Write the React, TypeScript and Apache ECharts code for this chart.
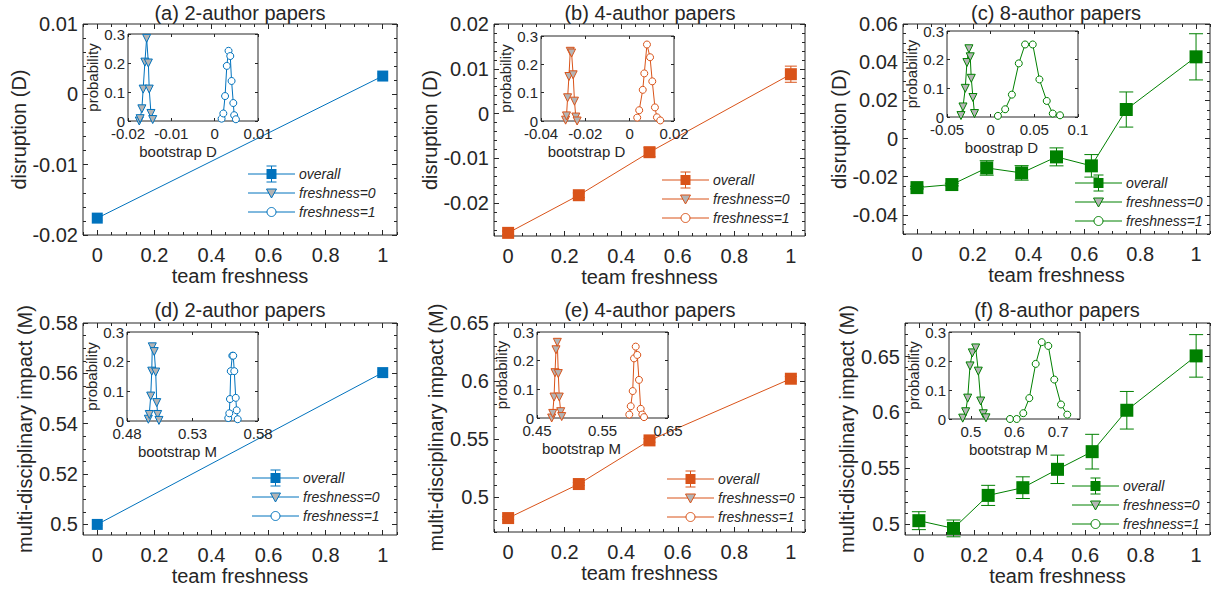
import React, { useEffect, useRef } from "react";
import * as echarts from "echarts";

const FONT = "'Liberation Sans', Arial, Helvetica, sans-serif";
const INK = "#262626";
const BLUE = "#0072BD";
const ORANGE = "#D95319";
const GREEN = "#008000";
const GRAY_FILL = "#b4b4b4";

// ---------- main panels: team freshness values ----------
const freshness2 = [0, 1];
const freshness4 = [0, 0.25, 0.5, 1];
const freshness8 = [0, 0.125, 0.25, 0.375, 0.5, 0.625, 0.75, 1];

// disruption D (mean and error half-width)
const disruption2 = [-0.0176, 0.0026];
const disruption2Err = [0.0003, 0.0003];
const disruption4 = [-0.0266, -0.0182, -0.0086, 0.0088];
const disruption4Err = [0.0004, 0.0005, 0.001, 0.0018];
const disruption8 = [-0.0257, -0.0241, -0.0154, -0.018, -0.0096, -0.0143, 0.0152, 0.0428];
const disruption8Err = [0.0007, 0.0007, 0.0038, 0.0038, 0.0047, 0.0059, 0.0092, 0.0121];

// multi-disciplinary impact M
const impact2 = [0.5, 0.5603];
const impact2Err = [0.0004, 0.0004];
const impact4 = [0.482, 0.5113, 0.5489, 0.602];
const impact4Err = [0.0012, 0.0012, 0.0015, 0.002];
const impact8 = [0.5033, 0.4964, 0.5259, 0.5328, 0.5492, 0.565, 0.602, 0.6506];
const impact8Err = [0.008, 0.0075, 0.009, 0.0097, 0.0127, 0.0155, 0.0168, 0.019];

// ---------- insets: bootstrap distributions ----------
const bootD2f0x = [-0.0174, -0.0172, -0.0168, -0.0165, -0.0161, -0.0157, -0.0153, -0.0151, -0.0147, -0.0143];
const bootD2f0y = [0.0, 0.008, 0.042, 0.11, 0.203, 0.285, 0.2, 0.11, 0.026, 0.005];
const bootD2f1x = [0.0016, 0.002, 0.0024, 0.0028, 0.0032, 0.0036, 0.0039, 0.0043, 0.0045, 0.0049];
const bootD2f1y = [0.008, 0.026, 0.086, 0.19, 0.242, 0.224, 0.138, 0.062, 0.02, 0.006];

const bootD4f0x = [-0.0289, -0.0285, -0.028, -0.0274, -0.0268, -0.0262, -0.0255, -0.0249, -0.0243, -0.0237];
const bootD4f0y = [0.003, 0.018, 0.082, 0.157, 0.246, 0.24, 0.163, 0.07, 0.014, 0.0];
const bootD4f1x = [0.0034, 0.0043, 0.0059, 0.0066, 0.0078, 0.0092, 0.0102, 0.0114, 0.0123, 0.0138];
const bootD4f1y = [0.012, 0.038, 0.11, 0.168, 0.27, 0.225, 0.14, 0.048, 0.013, 0.002];

const bootD8f0x = [-0.034, -0.0317, -0.0291, -0.0272, -0.0249, -0.0234, -0.0222, -0.0203, -0.0185];
const bootD8f0y = [0.005, 0.035, 0.1, 0.19, 0.238, 0.21, 0.135, 0.068, 0.012];
const bootD8f1x = [0.0083, 0.0166, 0.0243, 0.0322, 0.0394, 0.0482, 0.0558, 0.0642, 0.0711, 0.0794];
const bootD8f1y = [0.004, 0.027, 0.078, 0.187, 0.253, 0.253, 0.131, 0.056, 0.012, 0.006];

const bootM2f0x = [0.4963, 0.497, 0.4981, 0.4989, 0.4993, 0.5008, 0.5019, 0.5027, 0.5034, 0.5044];
const bootM2f0y = [0.006, 0.022, 0.084, 0.168, 0.25, 0.234, 0.165, 0.062, 0.022, 0.002];
const bootM2f1x = [0.5573, 0.5581, 0.5586, 0.5592, 0.5604, 0.5611, 0.5619, 0.563, 0.5637, 0.5645];
const bootM2f1y = [0.01, 0.026, 0.074, 0.168, 0.22, 0.22, 0.168, 0.078, 0.036, 0.006];

const bootM4f0x = [0.4724, 0.474, 0.476, 0.4775, 0.479, 0.481, 0.4825, 0.484, 0.4862, 0.4877];
const bootM4f0y = [0.0, 0.016, 0.073, 0.158, 0.238, 0.264, 0.155, 0.073, 0.022, 0.005];
const bootM4f1x = [0.5909, 0.5931, 0.5961, 0.5981, 0.6007, 0.6031, 0.6057, 0.6083, 0.6108, 0.6134];
const bootM4f1y = [0.012, 0.041, 0.094, 0.208, 0.249, 0.22, 0.133, 0.032, 0.012, 0.003];

const bootM8f0x = [0.4814, 0.4882, 0.4928, 0.4981, 0.5034, 0.5111, 0.5171, 0.5226, 0.5285, 0.5347];
const bootM8f0y = [0.003, 0.025, 0.072, 0.183, 0.228, 0.245, 0.165, 0.062, 0.018, 0.004];
const bootM8f1x = [0.5897, 0.605, 0.6201, 0.6339, 0.6485, 0.6623, 0.6774, 0.6911, 0.7065, 0.7209];
const bootM8f1y = [0.0, 0.0, 0.02, 0.072, 0.19, 0.265, 0.252, 0.136, 0.05, 0.015];

// ---------- tick values ----------
const freshnessTicks = [0, 0.2, 0.4, 0.6, 0.8, 1];
const probabilityTicks = [0, 0.1, 0.2, 0.3];
const dTicks2 = [-0.02, -0.01, 0, 0.01];
const dTicks4 = [-0.02, -0.01, 0, 0.01, 0.02];
const dTicks8 = [-0.04, -0.02, 0, 0.02, 0.04, 0.06];
const mTicks2 = [0.5, 0.52, 0.54, 0.56, 0.58];
const mTicks4 = [0.5, 0.55, 0.6, 0.65];
const mTicks8 = [0.5, 0.55, 0.6, 0.65];
const bootTicksD2 = [-0.02, -0.01, 0, 0.01];
const bootTicksD4 = [-0.04, -0.02, 0, 0.02];
const bootTicksD8 = [-0.05, 0, 0.05, 0.1];
const bootTicksM2 = [0.48, 0.53, 0.58];
const bootTicksM4 = [0.45, 0.55, 0.65];
const bootTicksM8 = [0.5, 0.6, 0.7];
// minor tick steps
const freshnessMinorStep = 0.05;
const yMinorSteps = [0.002, 0.002, 0.005, 0.005, 0.01, 0.01];

const legendNames = ["overall", "freshness=0", "freshness=1"];

// ---------- layout (pixels) ----------
const LAYOUT = [
  { main: [83, 24, 314, 211], inset: [128, 34, 130, 87], title: [240, 13], legend: [248, 174], yGap: 52, mark: 11, cap: 5, insetShift: 15 },
  { main: [494, 24, 311, 212], inset: [541, 36, 133, 85], title: [650, 13], legend: [662, 180], yGap: 47, mark: 12, cap: 6, insetShift: 21 },
  { main: [903, 24, 307, 210], inset: [947, 31, 131, 86], title: [1056, 13], legend: [1075, 183], yGap: 49, mark: 13, cap: 7, insetShift: 11 },
  { main: [83, 323, 314, 212], inset: [127, 332, 131, 89], title: [240, 310], legend: [252, 478], yGap: 42, mark: 11, cap: 5, insetShift: 15 },
  { main: [494, 323, 311, 209], inset: [537, 332, 131, 86], title: [650, 310], legend: [667, 479], yGap: 46, mark: 12, cap: 6, insetShift: 21 },
  { main: [905, 323, 305, 212], inset: [949, 332, 131, 87], title: [1057, 310], legend: [1072, 486], yGap: 47, mark: 13, cap: 7, insetShift: 6 },
];

const zip = (a: number[], b: number[]) => a.map((v, i) => [v, b[i]]);

const PANELS = [
  {
    title: "(a) 2-author papers", color: BLUE, x: freshness2, y: disruption2, err: disruption2Err,
    yName: "disruption (D)", yMin: -0.02, yMax: 0.01, yTicks: dTicks2,
    inset: { name: "bootstrap D", min: -0.02, max: 0.01, ticks: bootTicksD2, f0: zip(bootD2f0x, bootD2f0y), f1: zip(bootD2f1x, bootD2f1y) },
  },
  {
    title: "(b) 4-author papers", color: ORANGE, x: freshness4, y: disruption4, err: disruption4Err,
    yName: "disruption (D)", yMin: -0.0273, yMax: 0.02, yTicks: dTicks4,
    inset: { name: "bootstrap D", min: -0.04, max: 0.02, ticks: bootTicksD4, f0: zip(bootD4f0x, bootD4f0y), f1: zip(bootD4f1x, bootD4f1y) },
  },
  {
    title: "(c) 8-author papers", color: GREEN, x: freshness8, y: disruption8, err: disruption8Err,
    yName: "disruption (D)", yMin: -0.05, yMax: 0.06, yTicks: dTicks8,
    inset: { name: "boostrap D", min: -0.05, max: 0.1, ticks: bootTicksD8, f0: zip(bootD8f0x, bootD8f0y), f1: zip(bootD8f1x, bootD8f1y) },
  },
  {
    title: "(d) 2-author papers", color: BLUE, x: freshness2, y: impact2, err: impact2Err,
    yName: "multi-disciplinary impact (M)", yMin: 0.4958, yMax: 0.58, yTicks: mTicks2,
    inset: { name: "bootstrap M", min: 0.48, max: 0.58, ticks: bootTicksM2, f0: zip(bootM2f0x, bootM2f0y), f1: zip(bootM2f1x, bootM2f1y) },
  },
  {
    title: "(e) 4-author papers", color: ORANGE, x: freshness4, y: impact4, err: impact4Err,
    yName: "multi-disciplinary impact (M)", yMin: 0.47, yMax: 0.65, yTicks: mTicks4,
    inset: { name: "bootstrap M", min: 0.45, max: 0.65, ticks: bootTicksM4, f0: zip(bootM4f0x, bootM4f0y), f1: zip(bootM4f1x, bootM4f1y) },
  },
  {
    title: "(f) 8-author papers", color: GREEN, x: freshness8, y: impact8, err: impact8Err,
    yName: "multi-disciplinary impact (M)", yMin: 0.4905, yMax: 0.68, yTicks: mTicks8,
    inset: { name: "bootstrap M", min: 0.45, max: 0.75, ticks: bootTicksM8, f0: zip(bootM8f0x, bootM8f0y), f1: zip(bootM8f1x, bootM8f1y) },
  },
];

const fmt = (v: number) => String(parseFloat(Number(v).toFixed(6)));

// minor tick positions between min and max, skipping the major ones
function minorValues(min: number, max: number, step: number, major: number[]) {
  const out: number[] = [];
  const start = Math.ceil(min / step - 1e-9);
  const end = Math.floor(max / step + 1e-9);
  for (let i = start; i <= end; i++) {
    const v = parseFloat((i * step).toFixed(8));
    if (!major.some((m) => Math.abs(m - v) < step * 1e-3)) out.push(v);
  }
  return out;
}

function buildOption() {
  const grid: any[] = [];
  const xAxis: any[] = [];
  const yAxis: any[] = [];
  const series: any[] = [];
  const graphic: any[] = [];

  const addFrame = (rect: number[], xs: any, ys: any, inset: boolean) => {
    const gi = grid.length;
    grid.push({
      left: rect[0], top: rect[1], width: rect[2], height: rect[3],
      show: true, borderColor: INK, borderWidth: 1, backgroundColor: "#ffffff",
      z: inset ? 3 : 0,
    });
    const fs = inset ? 15 : 20;
    const tl = inset ? 3 : 5;
    const txt = { fontSize: fs, fontFamily: FONT, color: INK };
    const tick = (vals: number[], len: number) => ({ show: true, inside: true, length: len, customValues: vals, lineStyle: { color: INK, width: 1 } });
    const line = { show: false, onZero: false };
    const zz = inset ? 4 : 1;
    const xi = xAxis.length;
    const shift = xs.shift || 0;
    xAxis.push({
      gridIndex: gi, type: "value", position: "bottom", min: xs.min, max: xs.max, z: zz,
      axisLine: line, splitLine: { show: false }, axisTick: tick(xs.ticks, tl),
      axisLabel: { customValues: xs.ticks, formatter: fmt, margin: inset ? 5 : 10, ...txt },
      name: xs.name, nameLocation: "middle", nameGap: inset ? 23 : 28,
      nameTextStyle: { ...txt, padding: [0, 2 * shift, 0, 0] },
    });
    const extraX = (pos: string, vals: number[], len: number) =>
      xAxis.push({
        gridIndex: gi, type: "value", position: pos, min: xs.min, max: xs.max, z: zz,
        axisLine: line, splitLine: { show: false }, axisTick: tick(vals, len), axisLabel: { show: false },
      });
    extraX("top", xs.ticks, tl);
    const yi = yAxis.length;
    yAxis.push({
      gridIndex: gi, type: "value", position: "left", min: ys.min, max: ys.max, z: zz,
      axisLine: line, splitLine: { show: false }, axisTick: tick(ys.ticks, tl),
      axisLabel: { customValues: ys.ticks, formatter: fmt, margin: inset ? 3 : 5, ...txt },
      name: ys.name, nameLocation: "middle", nameGap: ys.gap, nameTextStyle: txt,
    });
    const extraY = (pos: string, vals: number[], len: number) =>
      yAxis.push({
        gridIndex: gi, type: "value", position: pos, min: ys.min, max: ys.max, z: zz,
        axisLine: line, splitLine: { show: false }, axisTick: tick(vals, len), axisLabel: { show: false },
      });
    extraY("right", ys.ticks, tl);
    if (!inset) {
      const xm = minorValues(xs.min, xs.max, xs.minor, xs.ticks);
      const ym = minorValues(ys.min, ys.max, ys.minor, ys.ticks);
      extraX("bottom", xm, 3);
      extraX("top", xm, 3);
      extraY("left", ym, 3);
      extraY("right", ym, 3);
    }
    return { xi, yi };
  };

  PANELS.forEach((p, k) => {
    const L = LAYOUT[k];
    const c = p.color;
    // main axes
    const m = addFrame(
      L.main,
      { min: -0.05, max: 1.05, ticks: freshnessTicks, minor: freshnessMinorStep, name: "team freshness" },
      { min: p.yMin, max: p.yMax, ticks: p.yTicks, minor: yMinorSteps[k], name: p.yName, gap: L.yGap },
      false
    );
    const hw = L.cap;
    series.push({
      type: "custom", xAxisIndex: m.xi, yAxisIndex: m.yi, z: 2, silent: true,
      data: p.x.map((xv, i) => [xv, p.y[i], p.y[i] - p.err[i], p.y[i] + p.err[i]]),
      encode: { x: 0, y: 1 },
      renderItem: (_params: any, api: any) => {
        const xv = api.value(0);
        const hi = api.coord([xv, api.value(3)]);
        const lo = api.coord([xv, api.value(2)]);
        const style = { stroke: c, lineWidth: 1 };
        return {
          type: "group",
          children: [
            { type: "line", shape: { x1: hi[0], y1: hi[1], x2: lo[0], y2: lo[1] }, style },
            { type: "line", shape: { x1: hi[0] - hw, y1: hi[1], x2: hi[0] + hw, y2: hi[1] }, style },
            { type: "line", shape: { x1: lo[0] - hw, y1: lo[1], x2: lo[0] + hw, y2: lo[1] }, style },
          ],
        };
      },
    });
    series.push({
      type: "line", name: "overall", xAxisIndex: m.xi, yAxisIndex: m.yi, z: 3, silent: true,
      data: zip(p.x, p.y), symbol: "rect", symbolSize: L.mark, showAllSymbol: true,
      lineStyle: { color: c, width: 1 }, itemStyle: { color: c },
    });

    // inset axes
    const n = addFrame(
      L.inset,
      { min: p.inset.min, max: p.inset.max, ticks: p.inset.ticks, name: p.inset.name, shift: L.insetShift },
      { min: 0, max: 0.3, ticks: probabilityTicks, name: "probability", gap: 22 },
      true
    );
    series.push({
      type: "line", name: "freshness=0", xAxisIndex: n.xi, yAxisIndex: n.yi, z: 6, silent: true,
      data: p.inset.f0, symbol: "triangle", symbolRotate: 180, symbolSize: 8, showAllSymbol: true,
      lineStyle: { color: c, width: 1 }, itemStyle: { color: GRAY_FILL, borderColor: c, borderWidth: 1 },
    });
    series.push({
      type: "line", name: "freshness=1", xAxisIndex: n.xi, yAxisIndex: n.yi, z: 6, silent: true,
      data: p.inset.f1, symbol: "circle", symbolSize: 7, showAllSymbol: true,
      lineStyle: { color: c, width: 1 }, itemStyle: { color: "#ffffff", borderColor: c, borderWidth: 1 },
    });

    // title
    graphic.push({
      type: "text", x: L.title[0], y: L.title[1], silent: true,
      style: { text: p.title, fontSize: 20, fontFamily: FONT, fill: INK, align: "center", verticalAlign: "middle" },
    });

    // legend
    const [lx, ly] = L.legend;
    const len = 47;
    const gap = 19;
    legendNames.forEach((nm, i) => {
      const y = ly + i * gap;
      const cx = lx + len / 2;
      graphic.push({ type: "line", silent: true, shape: { x1: lx, y1: y, x2: lx + len, y2: y }, style: { stroke: c, lineWidth: 1 } });
      if (i === 0) {
        graphic.push({ type: "line", silent: true, shape: { x1: cx, y1: y - 8, x2: cx, y2: y + 8 }, style: { stroke: c, lineWidth: 1 } });
        graphic.push({ type: "line", silent: true, shape: { x1: cx - 5, y1: y - 8, x2: cx + 5, y2: y - 8 }, style: { stroke: c, lineWidth: 1 } });
        graphic.push({ type: "line", silent: true, shape: { x1: cx - 5, y1: y + 8, x2: cx + 5, y2: y + 8 }, style: { stroke: c, lineWidth: 1 } });
        graphic.push({ type: "rect", silent: true, shape: { x: cx - 5, y: y - 5, width: 10, height: 10 }, style: { fill: c } });
      } else if (i === 1) {
        graphic.push({ type: "polygon", silent: true, shape: { points: [[cx - 5, y - 4], [cx + 5, y - 4], [cx, y + 5]] }, style: { fill: GRAY_FILL, stroke: c, lineWidth: 1 } });
      } else {
        graphic.push({ type: "circle", silent: true, shape: { cx, cy: y, r: 4.5 }, style: { fill: "#ffffff", stroke: c, lineWidth: 1 } });
      }
      graphic.push({
        type: "text", x: lx + len + 4, y, silent: true,
        style: { text: nm, fontSize: 14, fontStyle: "italic", fontFamily: FONT, fill: INK, align: "left", verticalAlign: "middle" },
      });
    });
  });

  return { animation: false, backgroundColor: "#ffffff", grid, xAxis, yAxis, series, graphic };
}

export default function App() {
  const ref = useRef<HTMLDivElement>(null);
  useEffect(() => {
    if (!ref.current) return;
    const chart = echarts.init(ref.current, undefined, { renderer: "svg" });
    chart.setOption(buildOption() as any);
    return () => chart.dispose();
  }, []);
  return <div ref={ref} style={{ position: "absolute", left: 0, top: 0, width: 1213, height: 590 }} />;
}
